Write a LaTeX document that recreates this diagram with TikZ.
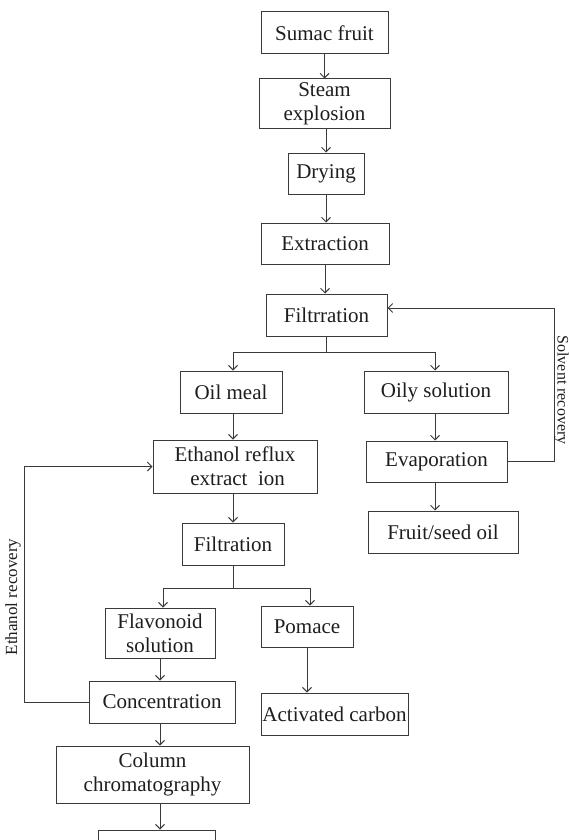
\documentclass[tikz,border=0pt]{standalone}
\usepackage{fontspec}
\setmainfont{Liberation Serif}
\usetikzlibrary{arrows.meta}
\definecolor{linec}{HTML}{3A3A3A}
\definecolor{textc}{HTML}{1E1E1E}
\begin{document}
\begin{tikzpicture}[x=1pt,y=-1pt,
  box/.style={draw=linec, line width=1pt, inner sep=0pt, align=center,
    text=textc, font=\fontsize{21}{24}\selectfont},
  arr/.style={draw=linec, line width=1pt, -{Straight Barb[length=4.5pt,width=9pt,line width=0.9pt]}},
  ln/.style={draw=linec, line width=1pt},
  lab/.style={inner sep=0pt, text=textc, font=\fontsize{17}{20}\selectfont}]
\clip (0,0) rectangle (569,840);
\fill[white] (0,0) rectangle (569,840);
\node[box, minimum width=127pt, minimum height=42pt] (sumac) at (324.5,33) {Sumac fruit};
\node[box, minimum width=131pt, minimum height=50pt] (steam) at (324.5,104) {Steam\\explosion};
\node[box, minimum width=76pt, minimum height=41pt] (dry) at (326,173.5) {Drying};
\node[box, minimum width=128pt, minimum height=41pt] (extr) at (325,243.5) {Extraction};
\node[box, minimum width=121pt, minimum height=42pt] (filt1) at (326.5,315) {Filtrration};
\node[box, minimum width=102pt, minimum height=42pt] (oilmeal) at (231,392) {Oil meal};
\node[box, minimum width=144pt, minimum height=42pt] (oily) at (436,392) {Oily solution};
\node[box, minimum width=141pt, minimum height=41pt] (evap) at (436.5,461.5) {Evaporation};
\node[box, minimum width=150pt, minimum height=42pt] (fruit) at (443,532) {Fruit/seed oil};
\node[box, minimum width=164pt, minimum height=53pt] (reflux) at (235,466.5) {Ethanol reflux\\\ extract\ \ ion};
\node[box, minimum width=102pt, minimum height=42pt] (filt2) at (233,544) {Filtration};
\node[box, minimum width=110pt, minimum height=50pt] (flav) at (160,633) {Flavonoid\\solution};
\node[box, minimum width=92pt, minimum height=41pt] (pomace) at (307,626.5) {Pomace};
\node[box, minimum width=147pt, minimum height=42pt] (act) at (334.5,714) {Activated carbon};
\node[box, minimum width=146pt, minimum height=42pt] (conc) at (162,702) {Concentration};
\node[box, minimum width=193pt, minimum height=57pt] (col) at (152.5,774.5) {Column\\chromatography};
\node[box, minimum width=117pt, minimum height=40pt] (last) at (156.5,850) {};
\draw[arr] (sumac.south) -- (sumac.south |- steam.north);
\draw[arr] ([xshift=1.5pt]steam.south) -- ([xshift=1.5pt]steam.south |- dry.north);
\draw[arr] (dry.south) -- (dry.south |- extr.north);
\draw[arr] (extr.south) -- (extr.south |- filt1.north);
\draw[ln] (filt1.south) -- ++(0,16) coordinate (b1);
\draw[arr] (b1) -| ([xshift=2pt]oilmeal.north);
\draw[arr] (b1) -| ([xshift=-1pt]oily.north);
\draw[arr] ([xshift=2pt]oilmeal.south) -- ([xshift=2pt]oilmeal.south |- reflux.north);
\draw[arr] ([xshift=-1pt]oily.south) -- ([xshift=-1pt]oily.south |- evap.north);
\draw[arr] ([xshift=-1.5pt]evap.south) -- ([xshift=-1.5pt]evap.south |- fruit.north);
\draw[arr] (evap.east) -- ++(47,0) coordinate (sr) |- ([yshift=7pt]filt1.east);
\node[lab, font=\fontsize{16}{19}\selectfont, rotate=-90, anchor=base] (srlab) at (557.5,390) {Solvent recovery};
\draw[arr] ([xshift=-2pt]reflux.south) -- ([xshift=-2pt]reflux.south |- filt2.north);
\draw[ln] (filt2.south) -- ++(0,23) coordinate (b2);
\draw[arr] (b2) -| ([xshift=3pt]flav.north);
\draw[arr] (b2) -| ([xshift=3pt]pomace.north);
\draw[arr] (pomace.south) -- (pomace.south |- act.north);
\draw[arr] (flav.south) -- (flav.south |- conc.north);
\draw[arr] ([xshift=-2pt]conc.south) -- ([xshift=-2pt]conc.south |- col.north);
\draw[arr] (conc.west) -- ++(-64,0) coordinate (er) |- (reflux.west);
\node[lab, rotate=90] (erlab) at (13,597) {Ethanol recovery};
\draw[arr] ([xshift=7.5pt]col.south) -- ([xshift=7.5pt]col.south |- last.north);
\end{tikzpicture}
\end{document}
